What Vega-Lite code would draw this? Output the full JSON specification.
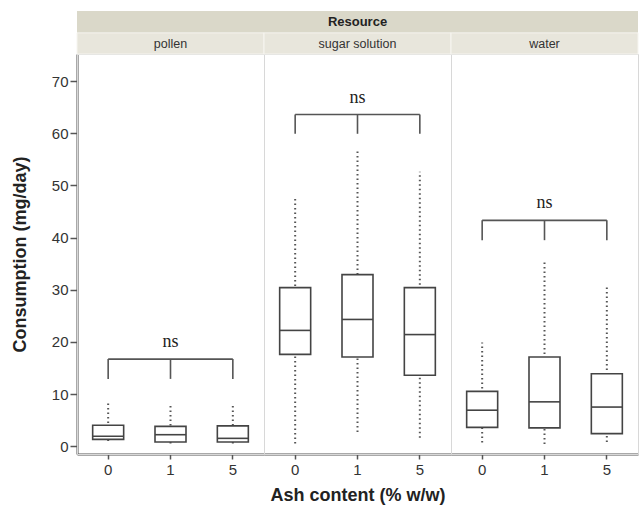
{
  "$schema": "https://vega.github.io/schema/vega-lite/v6.json",
  "padding": {"top": 10, "left": 11, "right": 0, "bottom": 1},
  "background": "white",
  "data": {"values": [
    {"kind": "box", "resource": "pollen", "ash": "0", "lo": 1.0, "q1": 1.3, "med": 1.9, "q3": 4.0, "hi": 8.2},
    {"kind": "box", "resource": "pollen", "ash": "1", "lo": 0.5, "q1": 0.8, "med": 2.2, "q3": 3.8, "hi": 8.0},
    {"kind": "box", "resource": "pollen", "ash": "5", "lo": 0.5, "q1": 0.8, "med": 1.5, "q3": 3.9, "hi": 8.2},
    {"kind": "box", "resource": "sugar solution", "ash": "0", "lo": 0.5, "q1": 17.6, "med": 22.2, "q3": 30.4, "hi": 47.6},
    {"kind": "box", "resource": "sugar solution", "ash": "1", "lo": 2.7, "q1": 17.1, "med": 24.3, "q3": 32.9, "hi": 56.6},
    {"kind": "box", "resource": "sugar solution", "ash": "5", "lo": 1.6, "q1": 13.6, "med": 21.4, "q3": 30.4, "hi": 52.6},
    {"kind": "box", "resource": "water", "ash": "0", "lo": 0.7, "q1": 3.6, "med": 6.9, "q3": 10.5, "hi": 19.9},
    {"kind": "box", "resource": "water", "ash": "1", "lo": 0.4, "q1": 3.5, "med": 8.5, "q3": 17.1, "hi": 35.7},
    {"kind": "box", "resource": "water", "ash": "5", "lo": 0.8, "q1": 2.4, "med": 7.5, "q3": 13.9, "hi": 31.0},
    {"kind": "brk", "resource": "pollen", "ash": "0", "top": 16.7, "drop": 12.9},
    {"kind": "brk", "resource": "pollen", "ash": "1", "top": 16.7, "drop": 12.9, "lab": "ns", "laby": 19.0},
    {"kind": "brk", "resource": "pollen", "ash": "5", "top": 16.7, "drop": 12.9},
    {"kind": "brk", "resource": "sugar solution", "ash": "0", "top": 63.6, "drop": 59.9},
    {"kind": "brk", "resource": "sugar solution", "ash": "1", "top": 63.6, "drop": 59.9, "lab": "ns", "laby": 65.8},
    {"kind": "brk", "resource": "sugar solution", "ash": "5", "top": 63.6, "drop": 59.9},
    {"kind": "brk", "resource": "water", "ash": "0", "top": 43.3, "drop": 39.5},
    {"kind": "brk", "resource": "water", "ash": "1", "top": 43.3, "drop": 39.5, "lab": "ns", "laby": 45.7},
    {"kind": "brk", "resource": "water", "ash": "5", "top": 43.3, "drop": 39.5}
  ]},
  "facet": {"column": {"field": "resource", "type": "nominal", "title": "Ash content (% w/w)", "sort": ["pollen", "sugar solution", "water"],
    "header": {"labels": false, "titleOrient": "bottom", "titleFont": "Liberation Sans", "titleFontSize": 18, "titleFontWeight": "bold", "titleColor": "#222", "titlePadding": 0}}},
  "spacing": 0,
  "bounds": "flush",
  "spec": {
    "width": 187,
    "height": 400,
    "layer": [
      {
        "transform": [{"filter": "datum.kind == 'box' && datum.ash == '1'"}],
        "mark": {"type": "rect", "fill": "#dad8c9"},
        "encoding": {
          "y": {"datum": 79.25, "type": "quantitative", "title": "Consumption (mg/day)", "scale": {"domain": [-1.5, 75.2], "nice": false, "zero": false}},
          "y2": {"datum": 83.45}
        }
      },
      {
        "transform": [{"filter": "datum.kind == 'box' && datum.ash == '1'"}],
        "mark": {"type": "rect", "fill": "#e8e6dc", "stroke": "#f6f5f0", "strokeWidth": 1},
        "encoding": {
          "y": {"datum": 75.2, "type": "quantitative", "title": "Consumption (mg/day)"},
          "y2": {"datum": 79.25}
        }
      },
      {
        "transform": [{"filter": "datum.kind == 'box'"}],
        "mark": {"type": "rule", "color": "#555", "strokeWidth": 2, "strokeDash": [1.5, 3]},
        "encoding": {
          "x": {"field": "ash", "type": "ordinal", "title": null},
          "y": {"field": "lo", "type": "quantitative", "title": "Consumption (mg/day)"},
          "y2": {"field": "hi"}
        }
      },
      {
        "transform": [{"filter": "datum.kind == 'box'"}],
        "mark": {"type": "bar", "size": 31, "fill": "white", "stroke": "#444", "strokeWidth": 1.6},
        "encoding": {
          "x": {"field": "ash", "type": "ordinal", "title": null},
          "y": {"field": "q1", "type": "quantitative", "title": "Consumption (mg/day)"},
          "y2": {"field": "q3"}
        }
      },
      {
        "transform": [{"filter": "datum.kind == 'box'"}],
        "mark": {"type": "tick", "size": 31, "thickness": 1.6, "color": "#444", "opacity": 1},
        "encoding": {
          "x": {"field": "ash", "type": "ordinal", "title": null},
          "y": {"field": "med", "type": "quantitative", "title": "Consumption (mg/day)"}
        }
      },
      {
        "transform": [{"filter": "datum.kind == 'brk'"}],
        "mark": {"type": "line", "color": "#555", "strokeWidth": 1.6},
        "encoding": {
          "x": {"field": "ash", "type": "ordinal", "title": null},
          "y": {"field": "top", "type": "quantitative", "title": "Consumption (mg/day)"}
        }
      },
      {
        "transform": [{"filter": "datum.kind == 'brk'"}],
        "mark": {"type": "rule", "color": "#555", "strokeWidth": 1.6},
        "encoding": {
          "x": {"field": "ash", "type": "ordinal", "title": null},
          "y": {"field": "drop", "type": "quantitative", "title": "Consumption (mg/day)"},
          "y2": {"field": "top"}
        }
      },
      {
        "transform": [{"filter": "datum.kind == 'brk' && datum.ash == '1'"}],
        "mark": {"type": "text", "font": "Liberation Serif", "fontSize": 18, "color": "#222", "baseline": "alphabetic", "align": "center"},
        "encoding": {
          "x": {"field": "ash", "type": "ordinal", "title": null},
          "y": {"field": "laby", "type": "quantitative", "title": "Consumption (mg/day)"},
          "text": {"field": "lab"}
        }
      },
      {
        "transform": [{"filter": "datum.kind == 'box' && datum.ash == '1'"}],
        "mark": {"type": "text", "font": "Liberation Sans", "fontSize": 12.5, "color": "#333", "baseline": "middle", "align": "center"},
        "encoding": {
          "x": {"field": "ash", "type": "ordinal", "title": null},
          "y": {"datum": 77.2, "type": "quantitative", "title": "Consumption (mg/day)"},
          "text": {"field": "resource"}
        }
      },
      {
        "transform": [{"filter": "datum.kind == 'box' && datum.ash == '1' && datum.resource == 'sugar solution'"}],
        "mark": {"type": "text", "font": "Liberation Sans", "fontSize": 13, "fontWeight": "bold", "color": "#222", "baseline": "middle", "align": "center"},
        "encoding": {
          "x": {"field": "ash", "type": "ordinal", "title": null},
          "y": {"datum": 81.35, "type": "quantitative", "title": "Consumption (mg/day)"},
          "text": {"value": "Resource"}
        }
      }
    ]
  },
  "resolve": {"scale": {"x": "shared", "y": "shared"}},
  "config": {
    "view": {"stroke": "#d8d8d8", "strokeWidth": 1},
    "scale": {"pointPadding": 0.5},
    "axis": {
      "grid": false,
      "domainColor": "#555",
      "domainWidth": 2,
      "tickColor": "#555",
      "tickWidth": 1.5,
      "labelFont": "Liberation Sans",
      "labelFontSize": 15,
      "labelColor": "#333",
      "titleFont": "Liberation Sans",
      "titleFontSize": 18,
      "titleFontWeight": "bold",
      "titleColor": "#222"
    },
    "axisY": {"values": [0, 10, 20, 30, 40, 50, 60, 70], "tickSize": 7, "labelPadding": 2, "titlePadding": 22},
    "axisX": {"labelAngle": 0, "tickSize": 5, "labelPadding": 3}
  }
}
